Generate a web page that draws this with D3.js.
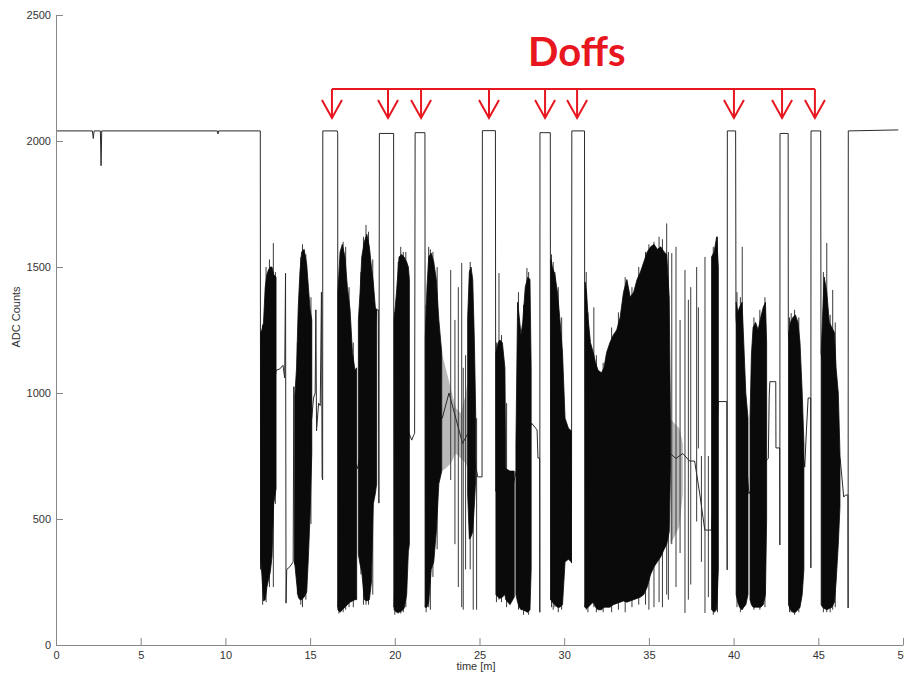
<!DOCTYPE html>
<html>
<head>
<meta charset="utf-8">
<script src="https://cdnjs.cloudflare.com/ajax/libs/d3/7.8.5/d3.min.js"></script>
<style>
  body { margin: 0; background: #fff; }
  .axis text { font-family: "Liberation Sans", Arial, sans-serif; font-size: 11px; fill: #333; }
  .axis path, .axis line { stroke: #888; }
</style>
</head>
<body>
<div id="chart"></div>
<script>
// ADC counts over time, with doff events marked in red

// Coarse signal path: plateaus, doff edges and the mid-level traces (time [m], counts)
var trace = [[0,2040],[2.15,2040],[2.2,2010],[2.25,2040],[2.62,2040],[2.66,1902],[2.7,2040],[9.52,2040],[9.56,2028],[9.6,2040],
  [12.06,2040],[12.08,300],[12.5,800],[12.99,1090],[13.2,1095],[13.4,1110],[13.5,1060],[13.55,1475],[13.58,166],[13.62,300],
  [13.8,310],[14.0,330],[14.04,1025],[14.08,320],[14.6,800],[15.1,900],[15.2,980],[15.3,1000],[15.34,1330],[15.38,850],
  [15.5,960],[15.6,950],[15.67,1400],[15.71,667],[15.74,655],[15.75,2040],[16.6,2040],[16.63,2030],[16.64,150],[17.2,800],
  [17.8,700],[18.4,900],[18.93,1330],[19.03,1330],[19.06,563],[19.09,2030],[19.93,2030],[19.95,150],[20.5,900],[20.9,830],
  [21.0,813],[21.1,830],[21.17,840],[21.2,2033],[21.78,2033],[21.8,150],[22.3,900],[22.8,900],[23.2,1000],[23.6,900],
  [24.0,800],[24.4,850],[24.8,700],[24.9,667],[25.15,667],[25.17,2041],[25.94,2041],[25.96,610],[26.3,700],[26.5,680],
  [26.8,650],[27.0,640],[27.2,700],[27.6,800],[28.08,880],[28.4,853],[28.45,742],[28.55,742],[28.56,130],[28.57,2033],
  [29.18,2033],[29.2,179],[29.8,800],[30.2,734],[30.4,734],[30.43,325],[30.45,2040],[31.2,2040],[31.22,150],[32.0,700],
  [33.0,800],[34.0,850],[35.0,900],[36.25,760],[36.6,740],[37.0,760],[37.4,730],[37.7,730],[38.0,600],[38.3,456],
  [38.7,456],[39.1,966],[39.6,966],[39.62,298],[39.63,2040],[40.12,2040],[40.14,1300],[40.9,600],[41.95,734],[42.05,740],
  [42.1,985],[42.14,1045],[42.49,1045],[42.5,782],[42.72,782],[42.73,397],[42.74,2030],[43.22,2030],[43.23,1238],[44.2,706],
  [44.3,853],[44.4,980],[44.55,980],[44.56,306],[44.57,2040],[45.14,2040],[45.16,1159],[46.3,734],[46.5,587],[46.6,595],
  [46.75,595],[46.76,147],[46.77,2040],[49.72,2044]];

// Dense oscillation bursts: [time, low envelope, high envelope]
var bursts = [
  [[12.08,340,1240],[12.15,280,1250],[12.25,175,1280],[12.35,180,1420],[12.45,230,1470],[12.55,260,1490],[12.65,290,1500],[12.75,350,1500],[12.85,560,1470],[12.99,620,1460]],
  [[14.1,320,990],[14.2,250,1100],[14.3,190,1340],[14.4,180,1480],[14.5,180,1560],[14.65,190,1570],[14.8,210,1510],[14.9,350,1420],[15.0,520,1330],[15.1,760,1290]],
  [[16.64,140,1400],[16.77,130,1560],[16.9,140,1590],[17.06,150,1540],[17.2,160,1420],[17.36,170,1330],[17.5,175,1160],[17.65,180,1090],[17.75,180,1100]],
  [[17.85,360,1290],[17.95,320,1400],[18.05,290,1540],[18.2,180,1600],[18.35,175,1630],[18.5,180,1580],[18.62,250,1500],[18.73,560,1440],[18.85,600,1340],[18.93,640,1330]],
  [[19.96,140,1290],[20.1,130,1400],[20.25,130,1540],[20.4,135,1550],[20.55,145,1540],[20.7,200,1520],[20.8,370,1500],[20.86,400,1450]],
  [[21.8,150,1220],[21.9,150,1420],[22.0,170,1540],[22.15,300,1555],[22.3,330,1520],[22.45,450,1450],[22.6,640,1290],[22.77,690,1160]],
  [[24.3,600,1300],[24.4,420,1480],[24.5,430,1500],[24.6,450,1450],[24.7,560,1200],[24.78,660,900]],
  [[25.97,200,1160],[26.1,190,1200],[26.2,185,1210],[26.35,190,1200],[26.5,200,1100],[26.55,180,700],[26.8,160,690],[27.05,190,690]],
  [[27.15,200,800],[27.25,170,1360],[27.35,150,1300],[27.45,140,1230],[27.55,140,1280],[27.7,135,1420],[27.85,130,1460],[27.98,140,1450],[28.05,300,1100]],
  [[29.21,180,1530],[29.3,170,1500],[29.45,160,1470],[29.6,150,1400],[29.75,150,1290],[29.9,160,1160],[30.05,330,900],[30.25,340,860],[30.42,330,850]],
  [[31.23,150,1440],[31.32,145,1400],[31.42,150,1290],[31.55,160,1200],[31.72,170,1160],[31.85,150,1120],[32.0,140,1090],[32.2,140,1080],[32.35,150,1100],
   [32.5,150,1160],[32.7,150,1200],[32.9,160,1230],[33.1,165,1250],[33.3,170,1300],[33.5,175,1400],[33.7,170,1450],[33.9,175,1380],[34.1,180,1400],
   [34.3,185,1450],[34.5,190,1480],[34.7,200,1520],[34.9,230,1560],[35.1,280,1580],[35.3,310,1590],[35.5,330,1570],[35.7,350,1580],[35.9,380,1560],
   [36.05,400,1550],[36.2,450,1380],[36.27,700,900]],
  [[38.7,140,1540],[38.85,130,1560],[39.0,140,1620],[39.1,300,1500]],
  [[40.15,200,1360],[40.25,170,1320],[40.35,150,1340],[40.5,140,1360],[40.6,150,1200],[40.72,160,1000],[40.85,200,900]],
  [[40.97,180,900],[41.05,160,1150],[41.15,150,1260],[41.3,150,1280],[41.45,150,1250],[41.6,150,1300],[41.75,160,1340],[41.88,200,1360],[41.95,500,1200]],
  [[43.24,160,1230],[43.35,140,1280],[43.5,130,1300],[43.65,130,1310],[43.8,140,1280],[43.92,150,1200],[44.05,200,1000],[44.15,300,800]],
  [[45.17,160,1160],[45.25,150,1300],[45.35,145,1460],[45.5,140,1400],[45.65,145,1280],[45.8,150,1260],[45.95,170,1240],[46.05,250,1100],[46.18,400,1000],[46.28,550,760]]
];

// Sparser grey stretches between bursts
var bands = [
  [[22.77,690,1160],[23.0,700,1100],[23.3,720,1020],[23.6,760,940],[23.9,740,920],[24.2,720,1000],[24.3,700,1050]],
  [[36.25,400,900],[36.5,430,880],[36.8,470,860],[37.0,600,800]]
];

// Single spikes sticking out of the bursts: [time, low, high]
var spikes = [[12.83,230,1595],[14.55,150,1590],[16.95,130,1600],[18.3,160,1667],[20.5,130,1560],[22.1,140,1570],
  [23.3,655,1488],[23.55,400,1290],[23.75,230,1420],[23.95,150,1516],[24.04,140,1100],[24.18,300,1150],[24.63,140,1300],
  [24.83,140,900],[26.15,180,1476],[26.6,150,960],[27.8,130,1496],[29.45,150,1480],[31.3,140,1480],[31.75,150,1340],
  [35.3,150,1600],[36.05,200,1673],[36.35,400,1555],[36.6,230,1580],[36.84,365,1290],[37.13,127,1488],[37.33,180,1370],
  [37.47,240,1420],[37.82,490,1500],[37.92,780,1340],[38.1,330,750],[38.31,127,1540],[38.51,190,750],[39.05,130,1620],
  [40.51,140,1580],[43.4,130,1317],[45.5,130,1595],[45.85,140,1409],
  [12.2,160,1270],[12.4,170,1500],[12.6,230,1530],[12.95,560,1480],
  [14.25,200,1200],[14.45,160,1540],[14.75,180,1550],[15.05,480,1380],
  [16.7,125,1450],[17.1,140,1580],[17.3,150,1420],[17.55,150,1200],
  [18.0,280,1480],[18.15,160,1620],[18.45,160,1640],[18.7,200,1530],
  [20.0,120,1320],[20.2,125,1520],[20.35,125,1580],[20.65,150,1560],
  [21.85,130,1350],[22.0,150,1580],[22.25,270,1560],[22.5,380,1500],[24.45,300,1520],
  [26.0,170,1200],[26.3,170,1230],[27.3,140,1400],[27.6,120,1350],[27.9,120,1480],
  [29.25,150,1550],[29.35,140,1520],[29.65,130,1420],[29.85,140,1300],
  [31.4,130,1320],[31.9,130,1150],[32.3,130,1120],
  [32.8,130,1260],[33.2,140,1320],[33.6,130,1460],[34.0,150,1420],[34.4,160,1500],[34.8,160,1560],[35.0,140,1590],
  [35.6,170,1620],[35.8,150,1610],[36.15,180,1560],[38.8,120,1580],
  [40.2,150,1400],[40.4,130,1380],[41.2,140,1300],[41.55,140,1330],[41.85,150,1380],
  [43.3,130,1300],[43.6,120,1330],[43.85,130,1300],[45.3,130,1480],[45.7,130,1310],[46.0,150,1280]];

// Doff arrow positions (time [m])
var doffArrows = [16.29, 19.6, 21.55, 25.56, 28.87, 30.76, 40.02, 42.86, 44.8];

var xTicks = [0, 5, 10, 15, 20, 25, 30, 35, 40, 45, 50],
  yTicks = [0, 500, 1000, 1500, 2000, 2500];

var width = 904, height = 677,
  mLeft = 56, mTop = 15, mRight = 1, mBottom = 32;

var x = d3.scaleLinear().domain([0, 50]).range([mLeft, width - mRight]);
var y = d3.scaleLinear().domain([0, 2500]).range([height - mBottom, mTop]);

var svg = d3.select("#chart").append("svg")
  .attr("width", width)
  .attr("height", height);

var area = d3.area()
  .x(function(d) { return x(d[0]); })
  .y0(function(d) { return y(d[1]); })
  .y1(function(d) { return y(d[2]); });

var line = d3.line()
  .x(function(d) { return x(d[0]); })
  .y(function(d) { return y(d[1]); });

var plot = svg.append("g");

plot.selectAll(".band")
  .data(bands)
  .enter().append("path")
  .attr("class", "band")
  .attr("d", area)
  .attr("fill", "#8a8a8a")
  .attr("fill-opacity", 0.6)
  .attr("stroke", "none");

// spikes go under the bursts so only the parts outside the envelope show
plot.selectAll(".spike")
  .data(spikes)
  .enter().append("line")
  .attr("class", "spike")
  .attr("x1", function(d) { return x(d[0]); })
  .attr("x2", function(d) { return x(d[0]); })
  .attr("y1", function(d) { return y(d[1]); })
  .attr("y2", function(d) { return y(d[2]); })
  .attr("stroke", "#3a3a3a")
  .attr("stroke-width", 1);

plot.append("path")
  .datum(trace)
  .attr("d", line)
  .attr("fill", "none")
  .attr("stroke", "#2a2a2a")
  .attr("stroke-width", 1);

plot.selectAll(".burst")
  .data(bursts)
  .enter().append("path")
  .attr("class", "burst")
  .attr("d", area)
  .attr("fill", "#0a0a0a")
  .attr("stroke", "#0a0a0a")
  .attr("stroke-width", 0.8);

// Axes, ticks pointing inwards
var xAxis = d3.axisBottom(x).tickValues(xTicks).tickFormat(d3.format("d"))
  .tickSizeInner(-7).tickSizeOuter(0).tickPadding(6);
var yAxis = d3.axisLeft(y).tickValues(yTicks).tickFormat(d3.format("d"))
  .tickSizeInner(-7).tickSizeOuter(0).tickPadding(5);

svg.append("g")
  .attr("class", "axis")
  .attr("transform", "translate(0," + (height - mBottom) + ")")
  .call(xAxis);

svg.append("g")
  .attr("class", "axis")
  .attr("transform", "translate(" + mLeft + ",0)")
  .call(yAxis);

svg.append("text")
  .attr("x", (mLeft + width) / 2 - 4)
  .attr("y", 670)
  .attr("text-anchor", "middle")
  .style("font-family", "Liberation Sans, Arial, sans-serif")
  .style("font-size", "11px")
  .style("fill", "#333")
  .text("time [m]");

svg.append("text")
  .attr("transform", "translate(20,317)rotate(-90)")
  .attr("text-anchor", "middle")
  .style("font-family", "Liberation Sans, Arial, sans-serif")
  .style("font-size", "11px")
  .style("fill", "#333")
  .text("ADC Counts");

// Doffs annotation
var red = "#e8161e",
  bracketY = 89, tipY = 118, armW = 10, armH = 18;

var note = svg.append("g")
  .attr("stroke", red)
  .attr("stroke-width", 2)
  .attr("fill", "none");

note.append("line")
  .attr("x1", x(d3.min(doffArrows)))
  .attr("x2", x(d3.max(doffArrows)))
  .attr("y1", bracketY)
  .attr("y2", bracketY);

note.selectAll(".stem")
  .data(doffArrows)
  .enter().append("line")
  .attr("class", "stem")
  .attr("x1", function(d) { return x(d); })
  .attr("x2", function(d) { return x(d); })
  .attr("y1", bracketY)
  .attr("y2", tipY);

note.selectAll(".head")
  .data(doffArrows)
  .enter().append("path")
  .attr("class", "head")
  .attr("stroke-linejoin", "miter")
  .attr("d", function(d) {
    var cx = x(d);
    return "M" + (cx - armW) + "," + (tipY - armH) + "L" + cx + "," + tipY + "L" + (cx + armW) + "," + (tipY - armH);
  });

svg.append("text")
  .attr("x", 528)
  .attr("y", 66)
  .style("font-family", "Lato, 'Open Sans', sans-serif")
  .style("font-weight", "bold")
  .style("font-size", "40px")
  .style("fill", red)
  .text("Doffs");
</script>
</body>
</html>
